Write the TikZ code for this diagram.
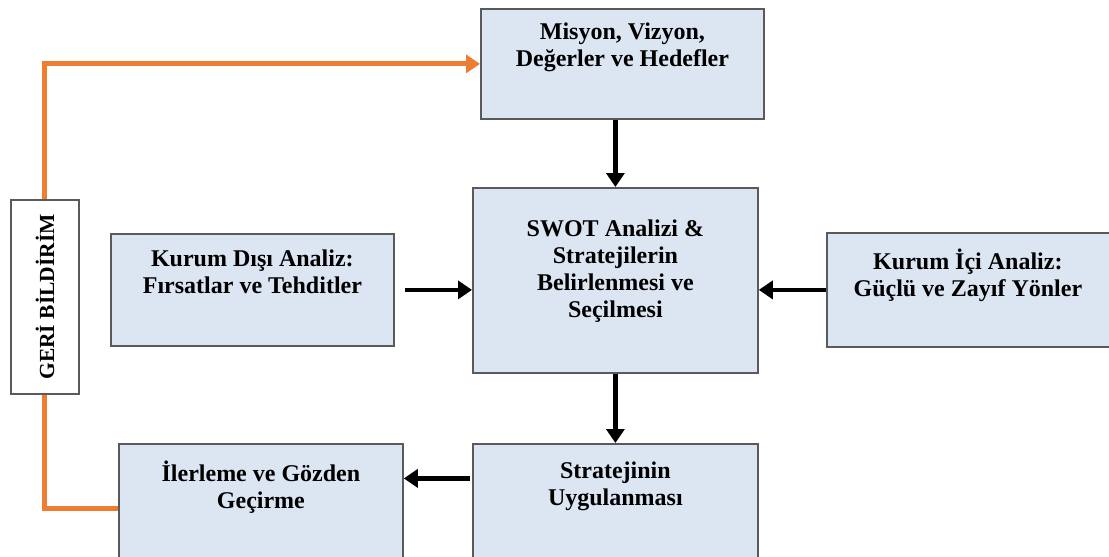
\documentclass[tikz,border=0pt]{standalone}
\usepackage{fontspec}
\setmainfont{Liberation Serif}
\usetikzlibrary{arrows.meta}
\definecolor{boxfill}{HTML}{DCE6F2}
\definecolor{boxgray}{HTML}{5A5A5A}
\definecolor{fborange}{HTML}{ED7D31}
\tikzset{
  box/.style={draw=boxgray, line width=1.8pt, fill=boxfill, anchor=north west, inner sep=0pt},
  lbl/.style={font=\bfseries\fontsize{24}{27}\selectfont, align=center, anchor=north, inner sep=0pt,
              execute at begin node={\rule{0pt}{20pt}}},
  arr/.style={line width=4.5pt, -{Triangle[length=14pt,width=18pt]}},
  fb/.style={draw=fborange, line width=5pt},
}
\begin{document}
\begin{tikzpicture}[x=1pt,y=-1pt]
\useasboundingbox (0,0) rectangle (1109,557);
% boxes
\node[box, minimum width=283pt, minimum height=110pt] (mis) at (480,8) {};
\node[box, minimum width=285pt, minimum height=185pt] (swot) at (472,187) {};
\node[box, minimum width=283pt, minimum height=112pt] (dis) at (110,233) {};
\node[box, minimum width=300pt, minimum height=114pt] (ici) at (826,232) {};
\node[box, minimum width=284pt, minimum height=129pt] (iler) at (118,443) {};
\node[box, minimum width=285pt, minimum height=129pt] (str) at (472,443) {};
\node[box, fill=white, minimum width=68pt, minimum height=194pt] (geri) at (10,199) {};
% labels
\node[lbl] (mist) at ([yshift=-15pt]mis.north) {Misyon, Vizyon,\\Değerler ve Hedefler};
\node[lbl] (swott) at ([yshift=-33pt]swot.north) {SWOT Analizi \&\\Stratejilerin\\Belirlenmesi ve\\Seçilmesi};
\node[lbl] (dist) at ([yshift=-17pt]dis.north) {Kurum Dışı Analiz:\\Fırsatlar ve Tehditler};
\node[lbl] (icit) at ([xshift=-9pt,yshift=-17pt]ici.north) {Kurum İçi Analiz:\\Güçlü ve Zayıf Yönler};
\node[lbl] (ilert) at ([yshift=-18pt]iler.north) {İlerleme ve Gözden\\Geçirme};
\node[lbl] (strt) at ([yshift=-19pt]str.north) {Stratejinin\\Uygulanması};
\node[font=\bfseries\fontsize{21.5}{24}\selectfont, rotate=90, inner sep=0pt] (gerit) at (geri.center) {GERİ BİLDİRİM};
% connectors
\draw[arr] (swot.north |- mis.south) -- (swot.north);
\draw[arr] (swot.south) -- (str.north);
\draw[arr, shorten <=10pt] (dis.east) -- (dis.east -| swot.west);
\draw[arr] (ici.west) -- (ici.west -| swot.east);
\draw[arr, shorten <=2pt] ([yshift=30pt]str.west) -- ([yshift=30pt]str.west -| iler.east);
\draw[fb, -{Triangle[length=14pt,width=18pt]}] (geri.north) |- (mis.west);
\draw[fb] (geri.south) |- (iler.west);
\end{tikzpicture}
\end{document}
